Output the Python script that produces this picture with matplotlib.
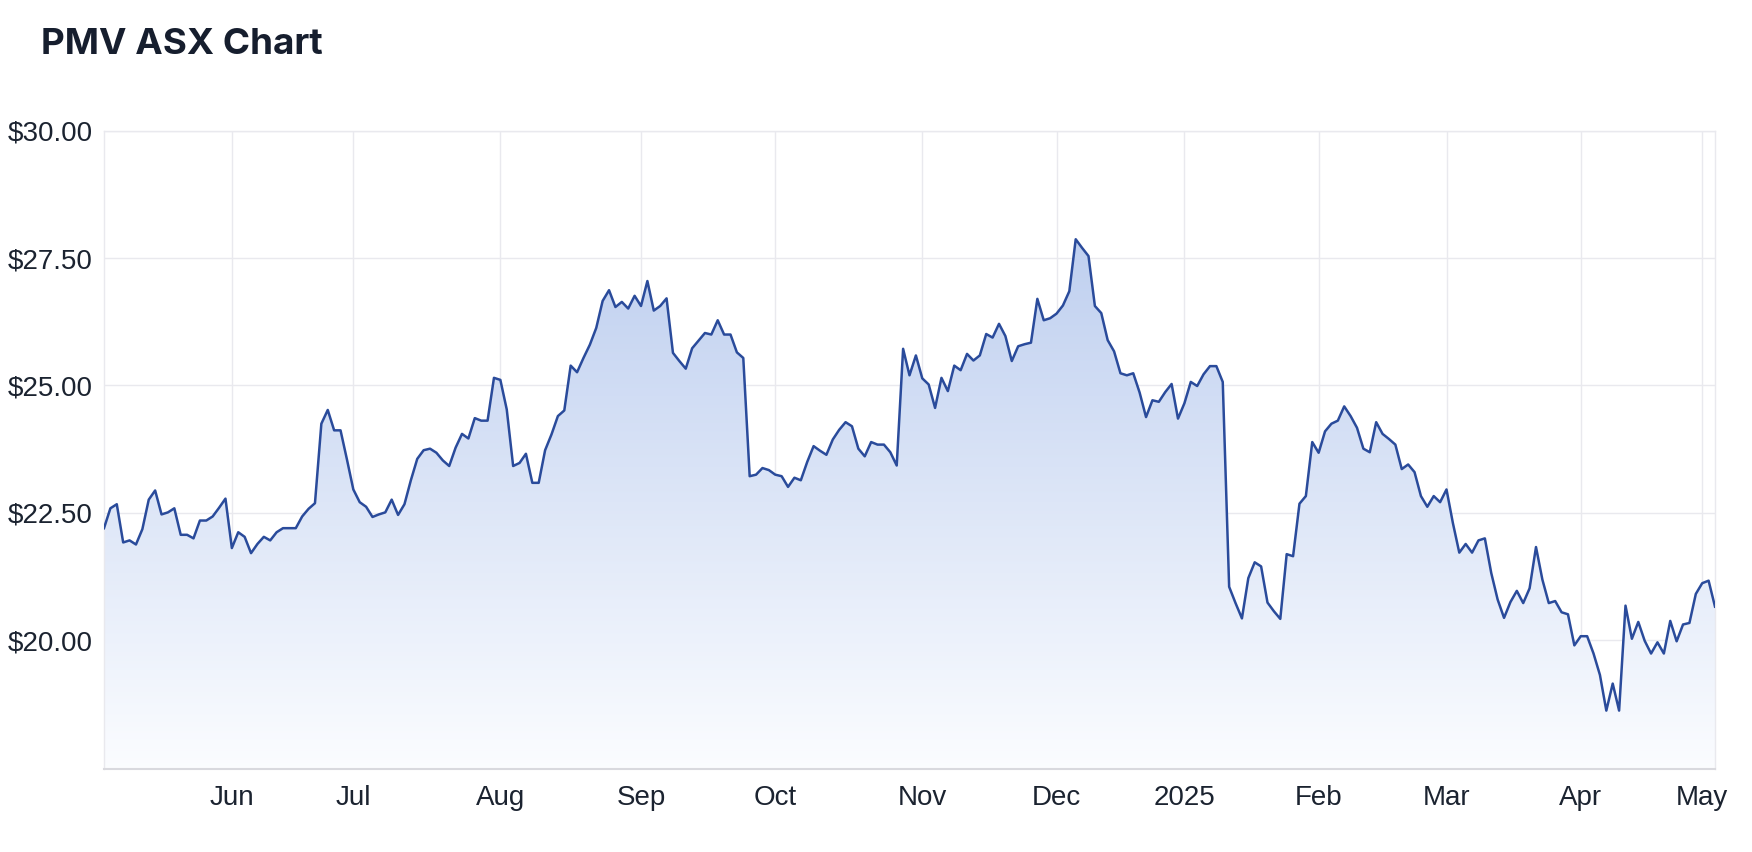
import numpy as np
import matplotlib
matplotlib.use("Agg")
import matplotlib.pyplot as plt
from matplotlib.patches import PathPatch

# PMV daily closes, one value per ASX trading day (6 May 2024 .. 5 May 2025)
price = [
    22.20, 22.59, 22.67, 21.92, 21.96, 21.88, 22.18, 22.76, 22.94, 22.47,
    22.51, 22.59, 22.07, 22.07, 22.00, 22.35, 22.35, 22.43, 22.60, 22.78,
    21.81, 22.12, 22.03, 21.71, 21.89, 22.03, 21.96, 22.12, 22.20, 22.20,
    22.20, 22.43, 22.58,
    22.69, 24.25, 24.52, 24.12, 24.12, 23.55, 22.96, 22.71, 22.62, 22.42,
    22.47, 22.51, 22.76, 22.46, 22.67, 23.14, 23.56, 23.73, 23.76, 23.68,
    23.53, 23.42, 23.78, 24.05, 23.96, 24.36, 24.31, 24.31, 25.15, 25.11,
    24.53,
    23.42, 23.48, 23.66, 23.09, 23.09, 23.73, 24.04, 24.40, 24.51, 25.39,
    25.26, 25.54, 25.80, 26.13, 26.66, 26.87, 26.54, 26.64, 26.51, 26.76,
    26.56, 27.05, 26.47, 26.56, 26.71, 25.64, 25.48, 25.33, 25.73, 25.88,
    26.03,
    26.00, 26.28, 26.00, 26.00, 25.65, 25.54, 23.22, 23.25, 23.38, 23.34,
    23.25, 23.22, 23.01, 23.19, 23.14, 23.50, 23.81, 23.72, 23.64, 23.94,
    24.13, 24.28, 24.20, 23.76, 23.61, 23.89, 23.84, 23.84, 23.69, 23.43,
    25.72,
    25.20, 25.59, 25.14, 25.02, 24.56, 25.15, 24.89, 25.39, 25.30, 25.62,
    25.49, 25.59, 26.01, 25.94, 26.21, 25.97, 25.48, 25.77, 25.81, 25.84,
    26.70, 26.28, 26.32, 26.41, 26.57, 26.85, 27.87, 27.70, 27.54, 26.56,
    26.42, 25.89,
    25.67, 25.24, 25.20, 25.24, 24.86, 24.38, 24.71, 24.68, 24.87, 25.03,
    24.35, 24.65, 25.07, 24.99, 25.22, 25.38, 25.38, 25.07, 21.05, 20.73,
    20.43, 21.22, 21.53, 21.45, 20.74, 20.57, 20.42, 21.69, 21.65, 22.68,
    22.83,
    23.89, 23.68, 24.10, 24.25, 24.31, 24.59, 24.40, 24.17, 23.76, 23.69,
    24.28, 24.05, 23.95, 23.84, 23.36, 23.45, 23.30, 22.83, 22.62, 22.83,
    22.71, 22.96,
    22.30, 21.72, 21.89, 21.72, 21.96, 22.00, 21.32, 20.80, 20.44, 20.75,
    20.97, 20.73, 21.02, 21.83, 21.19, 20.73, 20.77, 20.55, 20.51, 19.90,
    20.08, 20.08, 19.74, 19.32, 18.62, 19.15, 18.62, 20.68, 20.03, 20.36,
    19.99, 19.74, 19.96, 19.74, 20.38, 19.98, 20.31, 20.34, 20.91, 21.12,
    21.17, 20.66,
]

# first trading day of each month, as index into price
month_idx = [20, 39, 62, 84, 105, 128, 149, 169, 190, 210, 231, 250]
month_names = ["Jun", "Jul", "Aug", "Sep", "Oct", "Nov", "Dec", "2025",
               "Feb", "Mar", "Apr", "May"]
y_ticks = [20.0, 22.5, 25.0, 27.5, 30.0]

line_color = "#2a4b9b"
grid_color = "#e9e9ee"
text_color = "#1b2330"
y_lo, y_hi = 17.48, 30.0

W, H = 1752, 852
fig = plt.figure(figsize=(W / 100, H / 100), dpi=100)
ax = fig.add_axes([104 / W, 1 - 768.7 / H, (1715 - 104) / W, (768.7 - 130.7) / H])

x = np.arange(len(price))
ax.plot(x, price, color=line_color, lw=1.8, zorder=4)

# gradient fill under the line, strongest at the highest close
poly = ax.fill_between(x, price, y_lo, color="none", lw=0)
top = np.array([0.75, 0.815, 0.94])
bot = np.array([0.985, 0.99, 1.0])
t = np.linspace(1, 0, 256).reshape(-1, 1, 1)
img = np.concatenate([top * t + bot * (1 - t), np.ones((256, 1, 1))], axis=2)
im = ax.imshow(img, extent=[0, len(price) - 1, y_lo, max(price)], aspect="auto",
               origin="upper", zorder=1, interpolation="bilinear")
patch = PathPatch(poly.get_paths()[0], transform=ax.transData,
                  facecolor="none", edgecolor="none")
ax.add_patch(patch)
im.set_clip_path(patch)

ax.set_xlim(0, len(price) - 1)
ax.set_ylim(y_lo, y_hi)
ax.set_xticks(month_idx, month_names)
ax.set_yticks(y_ticks, ["$%.2f" % v for v in y_ticks])
ax.grid(color=grid_color, lw=1, zorder=0)
ax.set_axisbelow(True)
ax.tick_params(length=0, labelsize=20, labelcolor=text_color)
ax.tick_params(axis="y", pad=8)
ax.tick_params(axis="x", pad=12)
for lab in ax.get_xticklabels() + ax.get_yticklabels():
    lab.set_family(["Liberation Sans", "DejaVu Sans"])

for s in ["left", "right", "top"]:
    ax.spines[s].set_color(grid_color)
    ax.spines[s].set_linewidth(1)
ax.spines["bottom"].set_color("#d9d9de")
ax.spines["bottom"].set_linewidth(1.5)

fig.text(41 / W, 1 - 45 / H, "PMV ASX Chart", fontsize=26.5, fontweight="bold",
         family=["Inter", "DejaVu Sans"], color="#161e2e", va="center", ha="left")

fig.savefig("out.png", dpi=100, facecolor="white")
